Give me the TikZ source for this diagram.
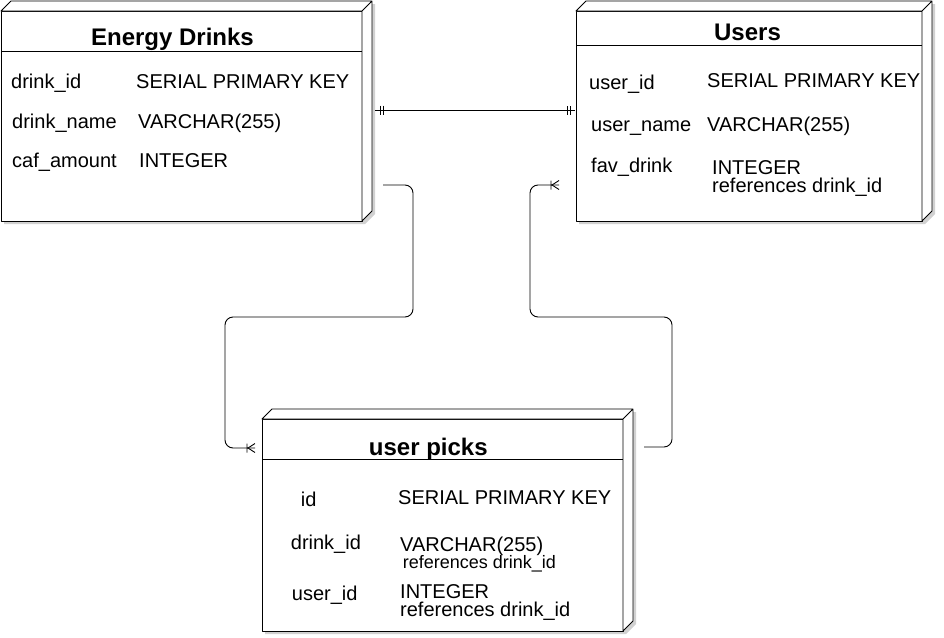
\documentclass[tikz,border=0pt]{standalone}
\usepackage{fontspec}
\setmainfont{Liberation Sans}
\usetikzlibrary{arrows.meta,backgrounds}

% mandatory one: two bars
\pgfdeclarearrow{
  name = ER one,
  parameters = {},
  setup code = {
    \pgfarrowssettipend{0pt}
    \pgfarrowssetlineend{0pt}
    \pgfarrowssetbackend{-9pt}
    \pgfarrowsupperhullpoint{0pt}{4.5pt}
    \pgfarrowsupperhullpoint{-9pt}{4.5pt}
  },
  drawing code = {
    \pgfpathmoveto{\pgfqpoint{-5pt}{-4.5pt}}
    \pgfpathlineto{\pgfqpoint{-5pt}{4.5pt}}
    \pgfpathmoveto{\pgfqpoint{-8pt}{-4.5pt}}
    \pgfpathlineto{\pgfqpoint{-8pt}{4.5pt}}
    \pgfusepathqstroke
  }
}
% one or many: bar and crow's foot
\pgfdeclarearrow{
  name = ER many,
  parameters = {},
  setup code = {
    \pgfarrowssettipend{0pt}
    \pgfarrowssetlineend{0pt}
    \pgfarrowssetbackend{-9pt}
    \pgfarrowsupperhullpoint{0pt}{4.5pt}
    \pgfarrowsupperhullpoint{-9pt}{4.5pt}
  },
  drawing code = {
    \pgfpathmoveto{\pgfqpoint{-8pt}{-4.5pt}}
    \pgfpathlineto{\pgfqpoint{-8pt}{4.5pt}}
    \pgfpathmoveto{\pgfqpoint{0pt}{4.5pt}}
    \pgfpathlineto{\pgfqpoint{-7pt}{0pt}}
    \pgfpathlineto{\pgfqpoint{0pt}{-4.5pt}}
    \pgfusepathqstroke
  }
}

\begin{document}
\begin{tikzpicture}[x=1pt,y=-1pt,line join=round,
  table/.style={draw,fill=white,line width=0.9pt,inner sep=0pt,outer sep=0pt},
  face/.style={draw,fill=white,line width=0.9pt},
  title/.style={anchor=base,inner sep=0pt,font=\fontsize{24}{28}\selectfont\bfseries},
  field/.style={anchor=base west,inner sep=0pt,font=\fontsize{20}{23}\selectfont},
  small/.style={field,font=\fontsize{18}{21}\selectfont},
  link/.style={line width=0.9pt,rounded corners=8pt}]
\useasboundingbox (0,0) rectangle (944,637);
%%
\node (drinks) at (181.5,116) [table,minimum width=361,minimum height=210] {};
  \node (users) at (749,116) [table,minimum width=346,minimum height=210] {};
  \node (picks) at (442.5,525) [table,minimum width=361,minimum height=212] {};
  \begin{scope}[on background layer]
  \foreach \t in {drinks,users,picks}
    \fill[black!18] ([shift={(3,3)}]\t.north west) -- ++(10,-10) -- ([shift={(13,-7)}]\t.north east)
      -- ([shift={(13,-7)}]\t.south east) -- ([shift={(3,3)}]\t.south east) -- ([shift={(3,3)}]\t.south west) -- cycle;
  \end{scope}
  \foreach \t in {drinks,users,picks}
    \draw[face] (\t.north west) -- ++(10,-10) -- ([shift={(10,-10)}]\t.north east) -- ([shift={(10,-10)}]\t.south east)
      -- (\t.south east) -- (\t.north east) -- cycle (\t.north east) -- ++(10,-10);
  \draw[face] ([shift={(0,40)}]drinks.north west) -- ([shift={(0,40)}]drinks.north east);
  \draw[face] ([shift={(0,34)}]users.north west) -- ([shift={(0,34)}]users.north east);
  \draw[face] ([shift={(0,40)}]picks.north west) -- ([shift={(0,40)}]picks.north east);
%
  \node (drinksTitle) at (172.5,45.7) [title] {Energy Drinks};
  \node (drinkId) at (11,88.3) [field] {drink\_id};
  \node (drinkIdType) at (136,88.3) [field] {SERIAL PRIMARY KEY};
  \node (drinkName) at (12,128.5) [field] {drink\_name};
  \node (drinkNameType) at (138,128.5) [field] {VARCHAR(255)};
  \node (cafAmount) at (12,167.7) [field] {caf\_amount};
  \node (cafAmountType) at (139,167.7) [field] {INTEGER};
%
  \node (usersTitle) at (747.5,40.7) [title] {Users};
  \node (userId) at (589,89.3) [field] {user\_id};
  \node (userIdType) at (707,87.3) [field] {SERIAL PRIMARY KEY};
  \node (userName) at (591,131.2) [field] {user\_name};
  \node (userNameType) at (707,131.2) [field] {VARCHAR(255)};
  \node (favDrink) at (591,172.3) [field] {fav\_drink};
  \node (favDrinkType) at (712,174.3) [field] {INTEGER};
  \node (favDrinkRef) at (712,192.7) [field] {references drink\_id};
%
  \node (picksTitle) at (428.3,455.3) [title] {user picks};
  \node (pickId) at (300.7,506.7) [field] {id};
  \node (pickIdType) at (398,504) [field] {SERIAL PRIMARY KEY};
  \node (pickDrink) at (290.7,549.3) [field] {drink\_id};
  \node (pickDrinkType) at (400,551.7) [field] {VARCHAR(255)};
  \node (pickDrinkRef) at (402.7,568.3) [small] {references drink\_id};
  \node (pickUser) at (291.7,600) [field] {user\_id};
  \node (pickUserType) at (400,598.3) [field] {INTEGER};
  \node (pickUserRef) at (400,616.7) [field] {references drink\_id};
%
  \coordinate (drinksOne) at (375,110);
  \coordinate (usersOne) at (575,110);
  \coordinate (drinksOut) at (383,185);
  \coordinate (picksIn) at (255,448);
  \coordinate (picksOut) at (644,447);
  \coordinate (usersIn) at (559,185);
  \draw [link,{ER one}-{ER one}] (drinksOne) -- (usersOne);
  \draw [link,-{ER many}] (drinksOut) -- ++(30,0) |- (225,317) |- (picksIn);
  \draw [link,-{ER many}] (picksOut) -- ++(28,0) |- (530,317) |- (usersIn);
%
\end{tikzpicture}
\end{document}
